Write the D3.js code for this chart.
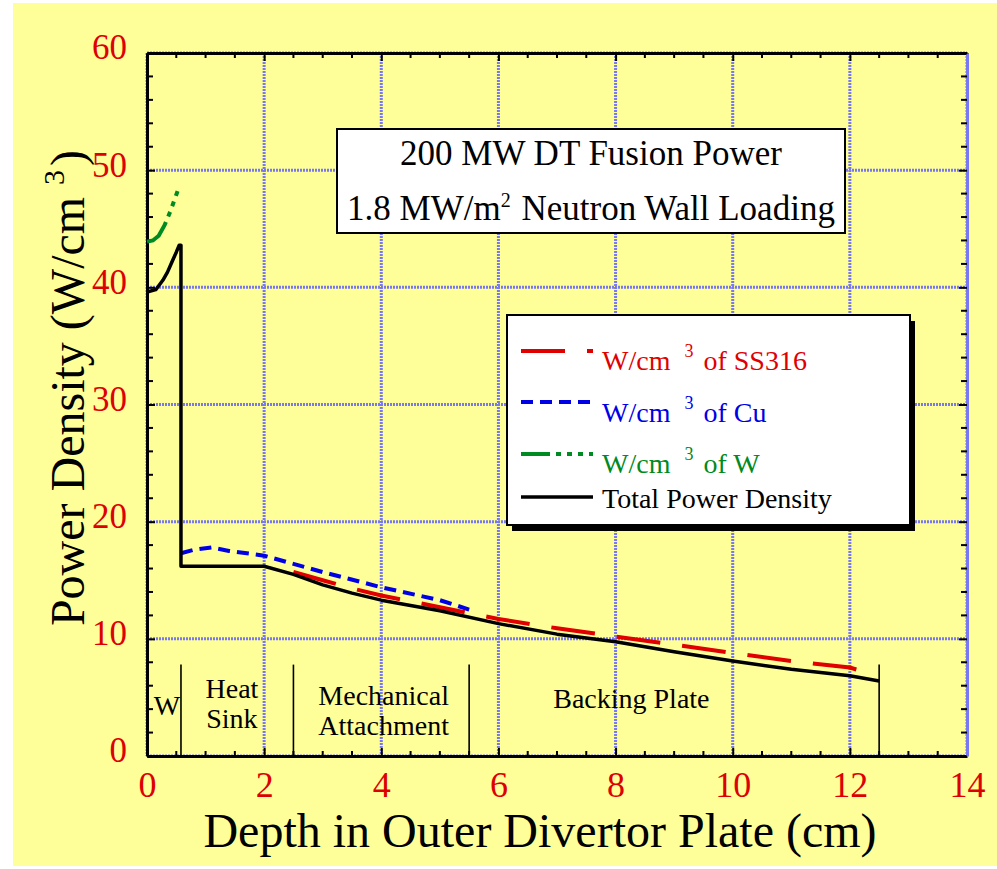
<!DOCTYPE html>
<html>
<head>
<meta charset="utf-8">
<script src="https://cdn.jsdelivr.net/npm/d3@7"></script>
<style>
    body { margin: 0; background: #ffffff; }
    svg text { font-family: "Times New Roman", "Liberation Serif", serif; }
</style>
</head>
<body>
<div id="chart"></div>
<script>
// depth (cm) and power density (W/cm3)
var total_x = [0, 0.15, 0.27, 0.35, 0.42, 0.5, 0.55, 0.58, 0.58, 1.0, 2.0, 2.5, 3, 3.5, 4, 5, 6, 7, 8, 9, 10, 11, 12, 12.5];
var total_y = [39.6, 39.8, 40.6, 41.3, 42.1, 43.0, 43.6, 43.6, 16.2, 16.2, 16.2, 15.5, 14.6, 13.9, 13.3, 12.4, 11.3, 10.4, 9.75, 8.9, 8.1, 7.4, 6.85, 6.4];

var w_x = [0, 0.1, 0.2, 0.3, 0.4, 0.5, 0.55];
var w_y = [43.9, 44.0, 44.4, 45.3, 46.5, 47.9, 48.6];

var cu_x = [0.58, 0.8, 1.1, 1.4, 2.0, 2.5, 3, 4, 5, 5.5];
var cu_y = [17.3, 17.6, 17.8, 17.5, 17.1, 16.4, 15.7, 14.4, 13.3, 12.5];

var ss_x = [2.5, 3, 3.5, 4, 5, 6, 7, 8, 9, 10, 11, 12, 12.2];
var ss_y = [15.7, 15.0, 14.3, 13.7, 12.7, 11.7, 10.9, 10.2, 9.5, 8.8, 8.1, 7.55, 7.25];

// region boundaries and labels
var region_bounds = [0.58, 2.5, 5.5, 12.5];
var region_top = 7.8;
var region_labels = [
    {lines: ["W"], x: 0.34, y: [3.5]},
    {lines: ["Heat", "Sink"], x: 1.45, y: [4.95, 2.4]},
    {lines: ["Mechanical", "Attachment"], x: 4.04, y: [4.35, 1.8]},
    {lines: ["Backing Plate"], x: 8.27, y: [4.1]}
];

var x_ticks = [0, 2, 4, 6, 8, 10, 12, 14];
var y_ticks = [0, 10, 20, 30, 40, 50, 60];

var legend_items = [
    {label: "W/cm", sup: "3", rest: "of SS316", color: "#e00000", dash: "44,22", width: 4},
    {label: "W/cm", sup: "3", rest: "of Cu", color: "#0000e6", dash: "12,7", width: 4},
    {label: "W/cm", sup: "3", rest: "of W", color: "#008a22", dash: "29,6,5,6,5,6,5,6,5,6", width: 4},
    {label: "Total Power Density", sup: null, rest: null, color: "#000000", dash: null, width: 3.5}
];

var width = 997, height = 869;
var plot_left = 147, plot_right = 967, plot_top = 53, plot_bottom = 756;
var tick_red = "#dd0000";
var grid_blue = "#7878f2";

var svg = d3.select("#chart").append("svg")
    .attr("width", width)
    .attr("height", height);

svg.append("rect")
    .attr("x", 13).attr("y", 3)
    .attr("width", width - 13).attr("height", height - 6)
    .attr("fill", "#ffff99");

var x = d3.scaleLinear().domain([0, 14]).range([plot_left, plot_right]);
var y = d3.scaleLinear().domain([0, 60]).range([plot_bottom, plot_top]);

// grid
var grid = svg.append("g").attr("class", "grid")
    .attr("stroke", grid_blue)
    .attr("stroke-width", 3)
    .attr("stroke-dasharray", "2,1");
grid.selectAll(".gx").data(x_ticks).enter().append("line")
    .attr("x1", d => x(d)).attr("x2", d => x(d))
    .attr("y1", plot_top).attr("y2", plot_bottom);
grid.selectAll(".gy").data(y_ticks).enter().append("line")
    .attr("y1", d => y(d)).attr("y2", d => y(d))
    .attr("x1", plot_left).attr("x2", plot_right);

// axes, ticks point inward
var x_minor = d3.range(0, 14.01, 0.5).filter(d => x_ticks.indexOf(d) == -1);
var y_minor = d3.range(0, 60.01, 2).filter(d => y_ticks.indexOf(d) == -1);

function styleAxis(g, color) {
    g.select(".domain").attr("stroke", color).attr("stroke-width", 3);
    g.selectAll(".tick line").attr("stroke", "#000").attr("stroke-width", 2);
}

var gx = svg.append("g")
    .attr("transform", "translate(0," + plot_bottom + ")")
    .call(d3.axisBottom(x).tickValues(x_ticks).tickSize(-8).tickSizeOuter(0));
styleAxis(gx, "#000");
gx.selectAll(".tick text")
    .attr("y", 41).attr("dy", null)
    .attr("fill", tick_red)
    .attr("font-size", 36)
    .attr("font-family", "'Times New Roman', 'Liberation Serif', serif");

var gy = svg.append("g")
    .attr("transform", "translate(" + plot_left + ",0)")
    .call(d3.axisLeft(y).tickValues(y_ticks).tickSize(-8).tickSizeOuter(0));
styleAxis(gy, "#000");
gy.selectAll(".tick text")
    .attr("x", -20).attr("dy", "0.17em")
    .attr("fill", tick_red)
    .attr("font-size", 35)
    .attr("font-family", "'Times New Roman', 'Liberation Serif', serif");

var gt = svg.append("g")
    .attr("transform", "translate(0," + plot_top + ")")
    .call(d3.axisTop(x).tickValues(x_ticks).tickSize(-8).tickSizeOuter(0).tickFormat(""));
styleAxis(gt, "#000");

var gr = svg.append("g")
    .attr("transform", "translate(" + plot_right + ",0)")
    .call(d3.axisRight(y).tickValues(y_ticks).tickSize(-8).tickSizeOuter(0).tickFormat(""));
styleAxis(gr, grid_blue);

var minor = svg.append("g").attr("stroke", "#000").attr("stroke-width", 2);
x_minor.forEach(function (d) {
    minor.append("line").attr("x1", x(d)).attr("x2", x(d)).attr("y1", plot_bottom).attr("y2", plot_bottom - 5);
    minor.append("line").attr("x1", x(d)).attr("x2", x(d)).attr("y1", plot_top).attr("y2", plot_top + 5);
});
y_minor.forEach(function (d) {
    minor.append("line").attr("y1", y(d)).attr("y2", y(d)).attr("x1", plot_left).attr("x2", plot_left + 6);
    minor.append("line").attr("y1", y(d)).attr("y2", y(d)).attr("x1", plot_right).attr("x2", plot_right - 6);
});

// region dividers and labels
svg.append("g").selectAll("line").data(region_bounds).enter().append("line")
    .attr("x1", d => x(d)).attr("x2", d => x(d))
    .attr("y1", y(region_top)).attr("y2", plot_bottom)
    .attr("stroke", "#000").attr("stroke-width", 1.6);

region_labels.forEach(function (r) {
    r.lines.forEach(function (txt, i) {
        svg.append("text")
            .attr("x", x(r.x)).attr("y", y(r.y[i]))
            .attr("text-anchor", "middle")
            .attr("font-size", 28)
            .attr("fill", "#000")
            .text(txt);
    });
});

// curves
function zipPoints(xs, ys) {
    return xs.map((d, i) => [d, ys[i]]);
}

var line = d3.line().x(d => x(d[0])).y(d => y(d[1]));

svg.append("path").datum(zipPoints(ss_x, ss_y))
    .attr("d", line).attr("fill", "none")
    .attr("stroke", legend_items[0].color).attr("stroke-width", 4)
    .attr("stroke-dasharray", legend_items[0].dash);

svg.append("path").datum(zipPoints(cu_x, cu_y))
    .attr("d", line).attr("fill", "none")
    .attr("stroke", legend_items[1].color).attr("stroke-width", 4)
    .attr("stroke-dasharray", legend_items[1].dash);

svg.append("path").datum(zipPoints(w_x, w_y))
    .attr("d", line).attr("fill", "none")
    .attr("stroke", legend_items[2].color).attr("stroke-width", 4)
    .attr("stroke-dasharray", legend_items[2].dash);

svg.append("path").datum(zipPoints(total_x, total_y))
    .attr("d", line).attr("fill", "none")
    .attr("stroke", "#000").attr("stroke-width", 3.5)
    .attr("stroke-linejoin", "round");

// title box
svg.append("rect")
    .attr("x", 337).attr("y", 129).attr("width", 508).attr("height", 104)
    .attr("fill", "#fff").attr("stroke", "#000").attr("stroke-width", 2);
svg.append("text")
    .attr("x", 591).attr("y", 165)
    .attr("text-anchor", "middle").attr("font-size", 35)
    .text("200 MW DT Fusion Power");
var t2 = svg.append("text")
    .attr("x", 591).attr("y", 220)
    .attr("text-anchor", "middle").attr("font-size", 35);
t2.append("tspan").text("1.8 MW/m");
t2.append("tspan").attr("dy", -13).attr("font-size", 20).text("2");
t2.append("tspan").attr("dy", 13).attr("dx", 2).text(" Neutron Wall Loading");

// legend box with shadow
svg.append("rect")
    .attr("x", 512).attr("y", 321).attr("width", 403).attr("height", 210)
    .attr("fill", "#000");
svg.append("rect")
    .attr("x", 507).attr("y", 315).attr("width", 403).attr("height", 210)
    .attr("fill", "#fff").attr("stroke", "#000").attr("stroke-width", 2);

var row_line_y = [351, 402, 454, 497];
var row_text_y = [370, 422, 473, 508];

legend_items.forEach(function (item, i) {
    var sample = svg.append("line")
        .attr("x1", 521).attr("x2", 593)
        .attr("y1", row_line_y[i]).attr("y2", row_line_y[i])
        .attr("stroke", item.color).attr("stroke-width", item.width);
    if (item.dash) sample.attr("stroke-dasharray", item.dash);

    var t = svg.append("text")
        .attr("x", 602).attr("y", row_text_y[i])
        .attr("font-size", 28)
        .attr("fill", item.color);
    t.append("tspan").text(item.label);
    if (item.sup) {
        t.append("tspan").attr("dx", 14).attr("dy", -13).attr("font-size", 18).text(item.sup);
        t.append("tspan").attr("dx", 10).attr("dy", 13).text(item.rest);
    }
});

// axis titles
svg.append("text")
    .attr("x", 540).attr("y", 847)
    .attr("text-anchor", "middle").attr("font-size", 48)
    .text("Depth in Outer Divertor Plate (cm)");

var yt = svg.append("text")
    .attr("transform", "translate(84,388) rotate(-90)")
    .attr("text-anchor", "middle").attr("font-size", 48);
yt.append("tspan").text("Power Density (W/cm");
yt.append("tspan").attr("dx", 12).attr("dy", -20).attr("font-size", 30).text("3");
yt.append("tspan").attr("dx", 4).attr("dy", 20).text(")");
</script>
</body>
</html>
